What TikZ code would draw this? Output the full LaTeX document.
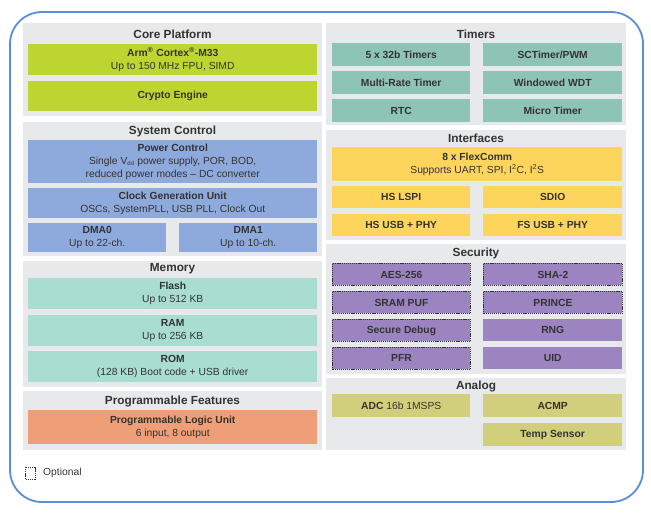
\documentclass[tikz,border=0pt]{standalone}
\usepackage{fontspec}
\setmainfont{Liberation Sans}
\definecolor{panelc}{HTML}{E8E9EA}
\definecolor{limec}{HTML}{BDD531}
\definecolor{bluec}{HTML}{8EAADC}
\definecolor{memc}{HTML}{A9DDD2}
\definecolor{orangec}{HTML}{EE9F78}
\definecolor{timerc}{HTML}{8DC4B5}
\definecolor{yellowc}{HTML}{FDD55C}
\definecolor{purplec}{HTML}{9B84C0}
\definecolor{olivec}{HTML}{D2CF7C}
\definecolor{outerc}{HTML}{5B8ED6}
\definecolor{txtc}{HTML}{333333}
\tikzset{
  panel/.style={fill=panelc, draw=none, inner sep=0pt, anchor=north west},
  ptitle/.style={font=\fontsize{11.8}{13}\selectfont\bfseries, text=txtc, inner sep=0pt},
  blk/.style={draw=none, inner sep=0pt, anchor=north west, align=center, text=txtc,
     font=\fontsize{10.3}{12.8}\selectfont},
  opt/.style={draw=txtc, line width=0.9pt, dash pattern=on 1.2pt off 0.9pt},
}
\newcommand\bt[1]{\textbf{#1}}
\begin{document}
\begin{tikzpicture}[x=1pt,y=-1pt]
\useasboundingbox (0,0) rectangle (651,520);
% outer frame
\draw[outerc, line width=1.8pt, rounded corners=32pt] (10,12) rectangle (643,502);

% ---------- Left column ----------
\node[panel, minimum width=299pt, minimum height=93pt] (pcore) at (23,23) {};
\node[ptitle] (tcore) at (172.5,34) {Core Platform};
\node[blk, fill=limec, minimum width=289pt, minimum height=31pt] (arm) at (28,44)
  {\bt{Arm\textsuperscript{®} Cortex\textsuperscript{®}-M33}\\Up to 150 MHz FPU, SIMD};
\node[blk, fill=limec, minimum width=289pt, minimum height=30pt] (crypto) at (28,81)
  {\bt{Crypto Engine}};

\node[panel, minimum width=299pt, minimum height=134pt] (psys) at (23,122) {};
\node[ptitle] (tsys) at (172.5,131) {System Control};
\node[blk, fill=bluec, minimum width=289pt, minimum height=43pt] (power) at (28,140)
  {\bt{Power Control}\\Single V\textsubscript{\fontsize{6}{6}\selectfont dd} power supply, POR, BOD,\\reduced power modes -- DC converter};
\node[blk, fill=bluec, minimum width=289pt, minimum height=30pt] (clock) at (28,188)
  {\bt{Clock Generation Unit}\\OSCs, SystemPLL, USB PLL, Clock Out};
\node[blk, fill=bluec, minimum width=138pt, minimum height=29pt] (dma0) at (28,223)
  {\bt{DMA0}\\Up to 22-ch.};
\node[blk, fill=bluec, minimum width=138pt, minimum height=29pt] (dma1) at (179,223)
  {\bt{DMA1}\\Up to 10-ch.};

\node[panel, minimum width=299pt, minimum height=126pt] (pmem) at (23,261) {};
\node[ptitle] (tmem) at (172.5,269) {Memory};
\node[blk, fill=memc, minimum width=289pt, minimum height=31pt] (flash) at (28,278)
  {\bt{Flash}\\Up to 512 KB};
\node[blk, fill=memc, minimum width=289pt, minimum height=31pt] (ram) at (28,315)
  {\bt{RAM}\\Up to 256 KB};
\node[blk, fill=memc, minimum width=289pt, minimum height=31pt] (rom) at (28,351)
  {\bt{ROM}\\(128 KB) Boot code + USB driver};

\node[panel, minimum width=299pt, minimum height=59pt] (pprog) at (23,391) {};
\node[ptitle] (tprog) at (172.5,401) {Programmable Features};
\node[blk, fill=orangec, minimum width=289pt, minimum height=34pt] (plu) at (28,410)
  {\bt{Programmable Logic Unit}\\6 input, 8 output};

% legend
\draw[opt] (25,467) rectangle (35,479);
\node[anchor=west, inner sep=0pt, text=txtc, font=\fontsize{10.3}{12}\selectfont] (legend) at (43,473) {Optional};

% ---------- Right column ----------
\node[panel, minimum width=300pt, minimum height=102pt] (ptim) at (326,23) {};
\node[ptitle] (ttim) at (476,34) {Timers};
\node[blk, fill=timerc, minimum width=138pt, minimum height=23pt] (t1) at (332,43) {\bt{5 x 32b Timers}};
\node[blk, fill=timerc, minimum width=139pt, minimum height=23pt] (t2) at (483,43) {\bt{SCTimer/PWM}};
\node[blk, fill=timerc, minimum width=138pt, minimum height=23pt] (t3) at (332,71) {\bt{Multi-Rate Timer}};
\node[blk, fill=timerc, minimum width=139pt, minimum height=23pt] (t4) at (483,71) {\bt{Windowed WDT}};
\node[blk, fill=timerc, minimum width=138pt, minimum height=23pt] (t5) at (332,99) {\bt{RTC}};
\node[blk, fill=timerc, minimum width=139pt, minimum height=23pt] (t6) at (483,99) {\bt{Micro Timer}};

\node[panel, minimum width=300pt, minimum height=110pt] (pint) at (326,130) {};
\node[ptitle] (tint) at (476,138) {Interfaces};
\node[blk, fill=yellowc, minimum width=290pt, minimum height=34pt] (flex) at (332,147)
  {\bt{8 x FlexComm}\\Supports UART, SPI, I\textsuperscript{2}C, I\textsuperscript{2}S};
\node[blk, fill=yellowc, minimum width=138pt, minimum height=22pt] (i1) at (332,186) {\bt{HS LSPI}};
\node[blk, fill=yellowc, minimum width=139pt, minimum height=22pt] (i2) at (483,186) {\bt{SDIO}};
\node[blk, fill=yellowc, minimum width=138pt, minimum height=22pt] (i3) at (332,214) {\bt{HS USB + PHY}};
\node[blk, fill=yellowc, minimum width=139pt, minimum height=22pt] (i4) at (483,214) {\bt{FS USB + PHY}};

\node[panel, minimum width=300pt, minimum height=130pt] (psec) at (326,244) {};
\node[ptitle] (tsec) at (476,253) {Security};
\node[blk, opt, fill=purplec, minimum width=138pt, minimum height=22pt] (s1) at (332,263) {\bt{AES-256}};
\node[blk, opt, fill=purplec, minimum width=139pt, minimum height=22pt] (s2) at (483,263) {\bt{SHA-2}};
\node[blk, opt, fill=purplec, minimum width=138pt, minimum height=22pt] (s3) at (332,291) {\bt{SRAM PUF}};
\node[blk, opt, fill=purplec, minimum width=139pt, minimum height=22pt] (s4) at (483,291) {\bt{PRINCE}};
\node[blk, opt, fill=purplec, minimum width=138pt, minimum height=22pt] (s5) at (332,319) {\bt{Secure Debug}};
\node[blk, fill=purplec, minimum width=139pt, minimum height=22pt] (s6) at (483,319) {\bt{RNG}};
\node[blk, opt, fill=purplec, minimum width=138pt, minimum height=22pt] (s7) at (332,347) {\bt{PFR}};
\node[blk, fill=purplec, minimum width=139pt, minimum height=22pt] (s8) at (483,347) {\bt{UID}};

\node[panel, minimum width=300pt, minimum height=72pt] (pana) at (326,378) {};
\node[ptitle] (tana) at (476,386) {Analog};
\node[blk, fill=olivec, minimum width=138pt, minimum height=23pt] (adc) at (332,394) {\bt{ADC} 16b 1MSPS};
\node[blk, fill=olivec, minimum width=139pt, minimum height=23pt] (acmp) at (483,394) {\bt{ACMP}};
\node[blk, fill=olivec, minimum width=139pt, minimum height=23pt] (temp) at (483,423) {\bt{Temp Sensor}};
\end{tikzpicture}
\end{document}
